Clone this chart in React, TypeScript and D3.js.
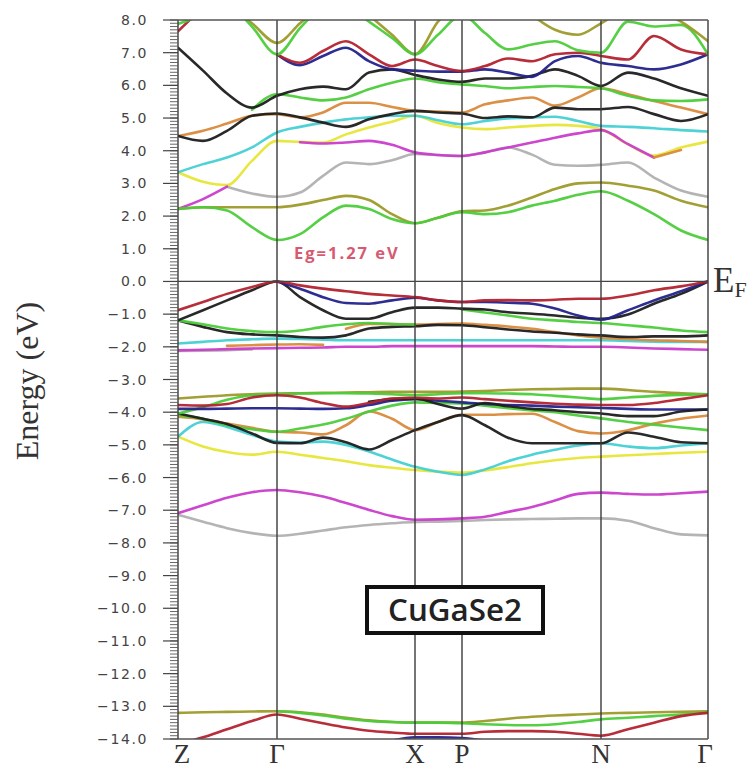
import React from "react";
import * as d3 from "d3";

const W = 752;
const H = 770;
const _ = null;

// high-symmetry points (k-path distance)
const kLabels = ["Z", "Γ", "X", "P", "N", "Γ"];
const kPoints = [0, 0.99, 2.37, 2.84, 4.23, 5.3];
// sampling grid along the path
const kGrid = [0, 0.25, 0.49, 0.74, 0.99, 1.22, 1.45, 1.68, 1.91, 2.14, 2.37, 2.6, 2.84, 3.07, 3.3, 3.54, 3.77, 4.0, 4.23, 4.5, 4.76, 5.03, 5.3];

const energyTicks = [8, 7, 6, 5, 4, 3, 2, 1, 0, -1, -2, -3, -4, -5, -6, -7, -8, -9, -10, -11, -12, -13, -14];

// ---- conduction bands (eV) ----
const cbGreen1 = [2.22, 2.27, 2.17, 1.66, 1.27, 1.45, 1.96, 2.32, 2.22, 1.91, 1.78, 1.95, 2.12, 2.06, 2.12, 2.32, 2.47, 2.65, 2.76, 2.47, 2.06, 1.56, 1.27];
const cbOlive1 = [2.22, 2.27, 2.27, 2.27, 2.27, 2.35, 2.49, 2.62, 2.49, 2.06, 1.78, 1.95, 2.15, 2.17, 2.32, 2.57, 2.83, 3.0, 3.03, 2.93, 2.78, 2.47, 2.27];
const cbMagenta1 = [2.22, 2.52, 2.9, _, _, _, _, _, _, _, _, _, _, _, _, _, _, _, _, _, _, _, _];
const cbGray1 = [_, _, 2.9, 2.69, 2.59, 2.72, 3.23, 3.64, 3.59, 3.71, 3.9, 3.87, 3.84, 3.95, 4.1, 3.88, 3.57, 3.54, 3.57, 3.64, 3.18, 2.78, 2.59];
const cbYellow1 = [3.34, 3.05, 2.95, 3.69, 4.3, 4.27, 4.25, 4.5, 4.71, 4.89, 5.07, 4.85, 4.71, 4.66, 4.71, 4.76, 4.79, 4.76, 4.66, 4.2, 3.85, 4.1, 4.28];
const cbMagenta2 = [_, _, _, _, _, 4.26, 4.22, 4.25, 4.3, 4.18, 3.95, 3.87, 3.84, 3.95, 4.1, 4.25, 4.4, 4.53, 4.63, 4.2, 3.79, _, _];
const cbOrangeDip = [_, _, _, _, _, _, _, _, _, _, _, _, _, _, _, _, _, _, _, _, 3.79, 4.02, _];
const cbCyan1 = [3.34, 3.59, 3.79, 4.1, 4.56, 4.73, 4.86, 4.96, 5.02, 5.07, 5.07, 4.93, 4.81, 4.91, 4.99, 5.02, 5.04, 4.91, 4.76, 4.73, 4.69, 4.63, 4.59];
const cbBlack1 = [4.45, 4.3, 4.61, 5.07, 5.14, 5.02, 4.86, 4.73, 4.96, 5.12, 5.22, 5.17, 5.14, 5.0, 5.05, 5.02, 5.32, 5.27, 5.27, 5.34, 5.12, 4.91, 5.12];
const cbOrange1 = [4.45, 4.61, 4.83, 5.07, 5.12, 5.02, 5.17, 5.47, 5.47, 5.34, 5.22, 5.2, 5.17, 5.42, 5.54, 5.63, 5.38, 5.63, 5.91, 5.73, 5.52, 5.32, 5.12];
const cbGreen2 = [_, _, _, 5.25, 5.73, 5.63, 5.54, 5.63, 5.88, 6.08, 6.21, 6.1, 6.03, 5.98, 5.91, 5.95, 5.98, 5.95, 5.91, 5.68, 5.54, 5.52, 5.57];
const cbBlack2 = [7.15, 6.45, 5.75, 5.32, 5.68, 5.88, 5.96, 5.88, 6.39, 6.49, 6.32, 6.18, 6.11, 6.21, 6.21, 6.29, 6.49, 6.29, 5.98, 6.39, 6.21, 5.91, 5.68];
const cbRed1 = [7.65, 8.4, _, _, _, _, _, _, _, _, _, _, _, _, _, _, _, _, _, _, _, _, _];
const cbRed2 = [_, _, _, _, 6.95, 6.69, 7.05, 7.35, 6.95, 6.59, 6.79, 6.59, 6.44, 6.59, 6.82, 6.74, 6.95, 7.0, 6.9, 6.79, 7.51, 7.1, 6.95];
const cbBlue1 = [_, _, _, _, 6.95, 6.62, 6.9, 7.15, 6.74, 6.49, 6.45, 6.42, 6.42, 6.49, 6.39, 6.26, 6.74, 6.9, 6.69, 6.59, 6.49, 6.64, 6.95];
const cbGreenTopZ = [7.88, 8.15, _, _, _, _, _, _, _, _, _, _, _, _, _, _, _, _, _, _, _, _, _];
const cbGreenVG = [_, _, 8.6, 7.8, 6.95, 7.75, 8.5, _, _, _, _, _, _, _, _, _, _, _, _, _, _, _, _];
const cbOliveVG = [_, _, 8.5, 7.9, 7.3, 7.9, 8.5, _, _, _, _, _, _, _, _, _, _, _, _, _, _, _, _];
const cbGreenVX = [_, _, _, _, _, _, _, 8.45, 7.95, 7.45, 6.95, 7.55, 8.15, 7.6, 7.1, 7.25, 7.35, 7.07, 7.0, 7.95, 7.8, 7.85, 6.95];
const cbOliveVX = [_, _, _, _, _, _, _, _, 8.15, 7.55, 6.95, 7.95, 8.6, _, _, _, _, _, _, _, _, _, _];
const cbOliveVN = [_, _, _, _, _, _, _, _, _, _, _, _, _, _, _, 8.15, 7.7, 7.55, 7.9, 8.4, _, _, _];
const cbOliveVG2 = [_, _, _, _, _, _, _, _, _, _, _, _, _, _, _, _, _, _, _, _, 8.3, 7.95, 7.35];

// ---- valence bands (eV) ----
const vbRed1 = [-0.88, -0.63, -0.38, -0.17, 0, -0.12, -0.22, -0.3, -0.38, -0.43, -0.48, -0.58, -0.63, -0.58, -0.57, -0.58, -0.56, -0.53, -0.53, -0.43, -0.27, -0.15, 0];
const vbBlue1 = [_, _, _, _, 0, -0.22, -0.48, -0.66, -0.68, -0.58, -0.5, -0.58, -0.63, -0.63, -0.65, -0.68, -0.83, -1.04, -1.17, -0.88, -0.58, -0.3, 0];
const vbBlack1 = [-1.19, -0.88, -0.58, -0.27, 0, -0.48, -0.88, -1.14, -1.14, -0.94, -0.8, -0.8, -0.83, -0.86, -0.94, -0.99, -1.04, -1.11, -1.14, -1.01, -0.68, -0.38, 0];
const vbGreen1 = [-1.19, -1.31, -1.44, -1.52, -1.55, -1.5, -1.39, -1.31, -1.27, -1.3, -1.32, _, _, _, _, _, _, _, _, _, _, _, _];
const vbGreen2 = [_, _, _, _, _, _, _, _, _, _, _, _, -0.86, -0.95, -1.04, -1.14, -1.19, -1.24, -1.27, -1.34, -1.41, -1.5, -1.55];
const vbBlack2 = [-1.19, -1.39, -1.55, -1.62, -1.65, -1.7, -1.72, -1.65, -1.44, -1.39, -1.37, -1.33, -1.34, -1.4, -1.47, -1.53, -1.57, -1.62, -1.65, -1.7, -1.68, -1.68, -1.65];
const vbOrange1 = [_, _, _, _, _, _, _, -1.45, -1.3, -1.3, -1.32, -1.3, -1.29, -1.33, -1.38, -1.45, -1.55, -1.65, -1.72, -1.76, -1.8, -1.82, -1.85];
const vbOrange2 = [_, _, -1.97, -1.95, -1.93, -1.92, -1.94, _, _, _, _, _, _, _, _, _, _, _, _, _, _, _, _];
const vbCyan1 = [-1.9, -1.85, -1.8, -1.77, -1.75, -1.76, -1.78, -1.8, -1.8, -1.8, -1.8, -1.8, -1.8, -1.8, -1.8, -1.8, -1.8, -1.8, -1.8, -1.82, -1.84, -1.85, -1.85];
const vbMagenta1 = [-2.11, -2.09, -2.07, -2.05, -2.04, -2.03, -2.02, -2.0, -2.0, -1.98, -1.98, -1.98, -1.98, -1.98, -1.98, -1.98, -1.99, -2.0, -2.0, -2.02, -2.05, -2.07, -2.09];
const vbGray1 = [-2.13, -2.12, -2.1, -2.08, _, _, _, _, _, _, _, _, _, _, _, _, _, _, _, _, _, _, _];
const vbOlive1 = [-3.58, -3.53, -3.48, -3.45, -3.43, -3.42, -3.41, -3.4, -3.39, -3.38, -3.38, -3.38, -3.37, -3.35, -3.32, -3.3, -3.29, -3.28, -3.28, -3.32, -3.38, -3.42, -3.45];
const vbGreen3 = [-4.04, -3.85, -3.62, -3.48, -3.45, -3.43, -3.42, -3.42, -3.43, -3.45, -3.48, -3.45, -3.42, -3.42, -3.43, -3.45, -3.5, -3.55, -3.6, -3.55, -3.5, -3.47, -3.45];
const vbRed2 = [-3.78, -3.8, -3.75, -3.55, -3.48, -3.55, -3.72, -3.83, -3.72, -3.58, -3.56, -3.58, -3.55, -3.6, -3.65, -3.7, -3.74, -3.77, -3.78, -3.78, -3.72, -3.6, -3.48];
const vbBlue2 = [-3.9, -3.9, -3.89, -3.88, -3.88, -3.89, -3.9, -3.88, -3.78, -3.65, -3.6, -3.65, -3.7, -3.75, -3.78, -3.8, -3.83, -3.85, -3.87, -3.9, -3.92, -3.92, -3.92];
const vbBlack3 = [_, _, _, _, _, _, _, _, -3.68, -3.6, -3.58, -3.75, -3.89, -3.72, -3.82, -3.9, -3.94, -4.0, -4.04, -4.12, -4.12, -3.98, -3.92];
const vbBlack4 = [-4.04, -4.2, -4.36, -4.65, -4.94, -4.95, -4.78, -4.92, -5.14, -4.85, -4.55, -4.3, -4.09, -4.4, -4.78, -4.95, -4.95, -4.95, -4.95, -4.62, -4.75, -4.92, -4.95];
const vbOrange3 = [-4.14, -4.22, -4.35, -4.48, -4.6, -4.62, -4.68, -4.4, -3.98, -4.2, -4.55, -4.3, -4.08, -4.08, -4.06, -4.05, -4.3, -4.58, -4.65, -4.55, -4.35, -4.2, -4.1];
const vbGreen4 = [-4.09, -4.2, -4.4, -4.52, -4.6, -4.5, -4.38, -4.2, -3.98, -3.8, -3.7, -3.72, -3.73, -3.8, -3.88, -3.95, -4.0, -4.1, -4.19, -4.3, -4.38, -4.47, -4.55];
const vbCyan2 = [-4.75, -4.3, -4.45, -4.7, -4.9, -4.93, -4.9, -5.0, -5.2, -5.45, -5.67, -5.82, -5.92, -5.75, -5.5, -5.3, -5.15, -5.02, -4.95, -5.05, -5.1, -5.02, -4.95];
const vbYellow2 = [-4.75, -5.05, -5.22, -5.3, -5.21, -5.3, -5.4, -5.5, -5.62, -5.7, -5.77, -5.82, -5.85, -5.78, -5.68, -5.56, -5.47, -5.4, -5.36, -5.32, -5.28, -5.24, -5.21];
const vbMagenta2 = [-7.09, -6.85, -6.62, -6.45, -6.38, -6.45, -6.58, -6.78, -6.99, -7.18, -7.29, -7.28, -7.25, -7.2, -7.05, -6.9, -6.7, -6.5, -6.46, -6.5, -6.52, -6.48, -6.43];
const vbGray2 = [-7.14, -7.35, -7.55, -7.7, -7.78, -7.72, -7.62, -7.52, -7.45, -7.4, -7.36, -7.35, -7.33, -7.3, -7.28, -7.27, -7.26, -7.25, -7.25, -7.32, -7.55, -7.74, -7.77];

// ---- semicore bands (eV) ----
const sbOlive = [-13.2, -13.18, -13.17, -13.16, -13.15, -13.18, -13.25, -13.35, -13.43, -13.48, -13.5, -13.5, -13.5, -13.45, -13.38, -13.32, -13.28, -13.25, -13.22, -13.2, -13.18, -13.17, -13.15];
const sbGreen = [_, _, _, _, -13.15, -13.2, -13.28, -13.38, -13.45, -13.48, -13.5, -13.5, -13.52, -13.55, -13.57, -13.58, -13.55, -13.48, -13.4, -13.35, -13.3, -13.25, -13.18];
const sbRed = [-14.16, -13.95, -13.7, -13.45, -13.25, -13.38, -13.52, -13.65, -13.75, -13.8, -13.84, -13.84, -13.84, -13.78, -13.76, -13.76, -13.78, -13.84, -13.9, -13.7, -13.5, -13.3, -13.2];
const sbBlue = [_, _, _, _, _, _, _, _, _, -14.05, -13.95, -13.95, -13.97, -14.05, _, _, _, _, _, _, _, _, _];

const COL = {
  red: "#b3222e",
  blue: "#23238c",
  black: "#1e1e1e",
  green: "#4ccc3a",
  olive: "#9d9a2a",
  orange: "#d98a3c",
  cyan: "#45d0d4",
  yellow: "#e6e636",
  magenta: "#c93ccb",
  gray: "#b0b0b0",
};

const bands: { v: (number | null)[]; c: string }[] = [
  { v: vbGray2, c: COL.gray },
  { v: vbGray1, c: COL.gray },
  { v: cbGray1, c: COL.gray },
  { v: vbMagenta2, c: COL.magenta },
  { v: vbMagenta1, c: COL.magenta },
  { v: vbOrange2, c: COL.orange },
  { v: vbCyan1, c: COL.cyan },
  { v: vbYellow2, c: COL.yellow },
  { v: vbCyan2, c: COL.cyan },
  { v: vbOrange3, c: COL.orange },
  { v: vbGreen4, c: COL.green },
  { v: vbBlack4, c: COL.black },
  { v: vbOlive1, c: COL.olive },
  { v: vbGreen3, c: COL.green },
  { v: vbBlue2, c: COL.blue },
  { v: vbBlack3, c: COL.black },
  { v: vbRed2, c: COL.red },
  { v: vbOrange1, c: COL.orange },
  { v: vbBlack2, c: COL.black },
  { v: vbGreen1, c: COL.green },
  { v: vbGreen2, c: COL.green },
  { v: vbBlack1, c: COL.black },
  { v: vbBlue1, c: COL.blue },
  { v: vbRed1, c: COL.red },
  { v: cbYellow1, c: COL.yellow },
  { v: cbMagenta1, c: COL.magenta },
  { v: cbMagenta2, c: COL.magenta },
  { v: cbOrangeDip, c: COL.orange },
  { v: cbCyan1, c: COL.cyan },
  { v: cbOlive1, c: COL.olive },
  { v: cbGreen1, c: COL.green },
  { v: cbOrange1, c: COL.orange },
  { v: cbBlack1, c: COL.black },
  { v: cbGreen2, c: COL.green },
  { v: cbBlack2, c: COL.black },
  { v: cbBlue1, c: COL.blue },
  { v: cbRed2, c: COL.red },
  { v: cbRed1, c: COL.red },
  { v: cbGreenTopZ, c: COL.green },
  { v: cbOliveVG, c: COL.olive },
  { v: cbGreenVG, c: COL.green },
  { v: cbOliveVX, c: COL.olive },
  { v: cbGreenVX, c: COL.green },
  { v: cbOliveVN, c: COL.olive },
  { v: cbOliveVG2, c: COL.olive },
  { v: sbOlive, c: COL.olive },
  { v: sbGreen, c: COL.green },
  { v: sbRed, c: COL.red },
  { v: sbBlue, c: COL.blue },
];

const L = 178;
const R = 708;
const T = 20;
const B = 739;

export default function App() {
  const x = d3.scaleLinear().domain([0, 5.3]).range([L, R]);
  const y = d3.scaleLinear().domain([-14, 8]).range([B, T]);
  const line = d3
    .line<number | null>()
    .defined((d) => d != null)
    .x((_d, i) => x(kGrid[i]))
    .y((d) => y(d as number))
    .curve(d3.curveMonotoneX);

  const minor = d3.range(-140, 81, 1).map((v) => v / 10);

  return (
    <svg
      width={W}
      height={H}
      style={{ position: "absolute", left: 0, top: 0, background: "#fff" }}
    >
      <defs>
        <clipPath id="plot">
          <rect x={L} y={T} width={R - L} height={B - T} />
        </clipPath>
      </defs>
      <rect x={0} y={0} width={W} height={H} fill="#fff" />

      {/* bands */}
      <g clipPath="url(#plot)" fill="none" strokeWidth={2.6} strokeLinejoin="round" strokeLinecap="round">
        {bands.map((b, i) => (
          <path key={i} d={line(b.v) || ""} stroke={b.c} opacity={0.95} />
        ))}
      </g>

      {/* high-symmetry vertical lines */}
      {kPoints.map((k, i) => (
        <line key={i} x1={x(k)} x2={x(k)} y1={T} y2={B} stroke="#3a3a3a" strokeWidth={1.4} />
      ))}
      {/* frame */}
      <line x1={L} x2={R} y1={T} y2={T} stroke="#555" strokeWidth={1.5} />
      <line x1={L} x2={R} y1={B} y2={B} stroke="#555" strokeWidth={1.5} />
      {/* Fermi level */}
      <line x1={L} x2={R} y1={y(0)} y2={y(0)} stroke="#444" strokeWidth={1.3} />

      {/* y ticks */}
      {minor.map((v, i) => (
        <line key={i} x1={L - 8} x2={L} y1={y(v)} y2={y(v)} stroke="#555" strokeWidth={0.9} />
      ))}
      {energyTicks.map((v) => (
        <g key={v}>
          <line x1={L - 15} x2={L} y1={y(v)} y2={y(v)} stroke="#444" strokeWidth={1.2} />
          <text
            x={148}
            y={y(v)}
            dy="0.36em"
            textAnchor="end"
            fontFamily="DejaVu Sans, Verdana, sans-serif"
            fontSize={14}
            letterSpacing={1.6}
            fill="#444"
          >
            {d3.format(".1f")(v)}
          </text>
        </g>
      ))}

      {/* axis title */}
      <text
        transform={`translate(38,381) rotate(-90)`}
        textAnchor="middle"
        fontFamily="Liberation Serif, Times New Roman, serif"
        fontSize={32}
        fill="#333"
      >
        Energy (eV)
      </text>

      {/* k labels */}
      {kLabels.map((lab, i) => {
        const px = i === 0 ? x(kPoints[i]) + 4 : i === kLabels.length - 1 ? x(kPoints[i]) - 3 : x(kPoints[i]);
        return (
          <text
            key={i}
            x={px}
            y={763}
            textAnchor="middle"
            fontFamily="Liberation Serif, Times New Roman, serif"
            fontSize={27}
            fill="#333"
          >
            {lab}
          </text>
        );
      })}

      {/* E_F */}
      <text x={713} y={292} fontFamily="Liberation Serif, Times New Roman, serif" fontSize={35} fill="#333">
        E
        <tspan fontSize={22} dy={5}>F</tspan>
      </text>

      {/* band gap annotation */}
      <text x={294} y={259} fontFamily="Open Sans, sans-serif" fontWeight={700} fontSize={16.5} letterSpacing={2} fill="#d65a70">
        Eg=1.27 eV
      </text>

      {/* compound box */}
      <rect x={367} y={587} width={176} height={46} fill="#fff" stroke="#111" strokeWidth={4} />
      <text
        x={455}
        y={610}
        dy="0.36em"
        textAnchor="middle"
        fontFamily="Open Sans, sans-serif"
        fontWeight={600}
        fontSize={30}
        fill="#222"
        textLength={134}
        lengthAdjust="spacingAndGlyphs"
      >
        CuGaSe2
      </text>
    </svg>
  );
}
